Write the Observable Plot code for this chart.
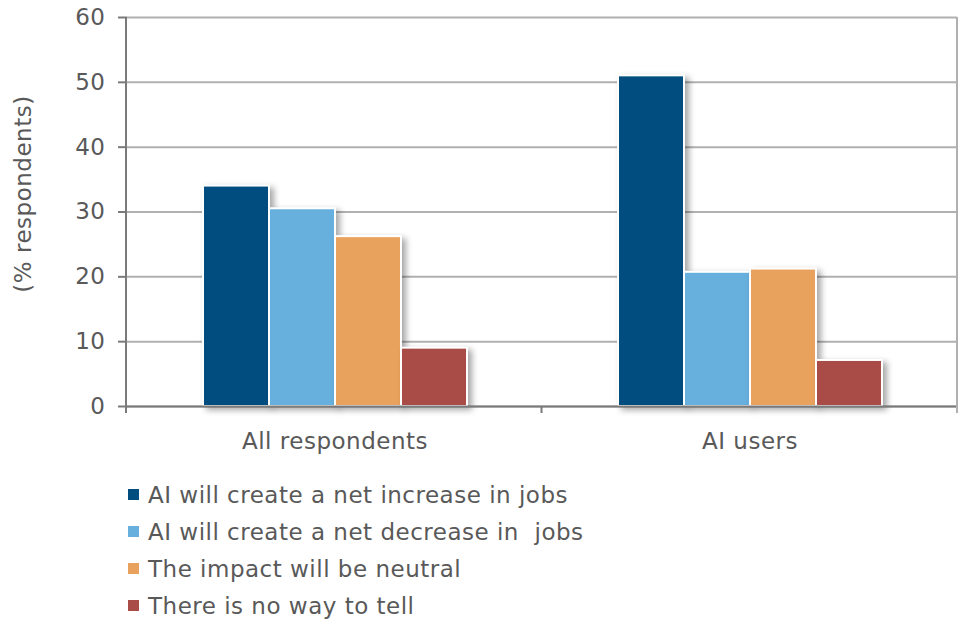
<!DOCTYPE html>
<html>
<head>
<meta charset="utf-8">
<script src="https://cdn.jsdelivr.net/npm/d3@7"></script>
<script src="https://cdn.jsdelivr.net/npm/@observablehq/plot@0.6"></script>
<style>
  html, body { margin: 0; padding: 0; background: #fff; }
  body { width: 960px; height: 621px; overflow: hidden; font-family: "DejaVu Sans", sans-serif; color: #595959; }
  #chart svg { display: block; overflow: visible; letter-spacing: 0.5px; }
  .bars rect { filter: drop-shadow(4px 3px 3px rgba(0,0,0,0.35)); }
  #legend { margin: 6px 0 0 128px; }
  .row { display: flex; align-items: center; height: 37px; font-size: 23px; letter-spacing: 0.5px; white-space: pre; }
  .sw { width: 11px; height: 11px; margin-right: 9px; }
</style>
</head>
<body>
<div id="chart"></div>
<div id="legend"></div>
<script>
const groups = ["All respondents", "AI users"];
const series = [
  "AI will create a net increase in jobs",
  "AI will create a net decrease in  jobs",
  "The impact will be neutral",
  "There is no way to tell"
];
const allRespondents = [34, 30.5, 26.2, 9];
const aiUsers = [51, 20.7, 21.2, 7.1];
const colors = ["#024D80", "#67AFDC", "#E9A25E", "#A94C48"];
const yTicks = [0, 10, 20, 30, 40, 50, 60];
const yLabel = "(% respondents)";

const data = [];
[allRespondents, aiUsers].forEach((vals, gi) => {
  vals.forEach((v, si) => data.push({group: groups[gi], series: series[si], value: v}));
});

const chart = Plot.plot({
  width: 960,
  height: 470,
  marginLeft: 126,
  marginRight: 3,
  marginTop: 17,
  marginBottom: 64,
  style: {fontFamily: "DejaVu Sans, sans-serif", fontSize: "23px", color: "#595959", background: "white"},
  fx: {domain: groups, padding: 0, label: null},
  x: {domain: series, paddingInner: 0, paddingOuter: 1.1, axis: null},
  y: {domain: [0, 60]},
  color: {domain: series, range: colors},
  marks: [
    Plot.gridY(yTicks, {stroke: "#b0b0b0", strokeWidth: 2, strokeOpacity: 1}),
    Plot.axisY(yTicks, {tickSize: 9, tickPadding: 13, stroke: "#7a7a7a", strokeWidth: 2, label: null, fontSize: 23}),
    Plot.text([{group: groups[0], label: yLabel}], {fx: "group", text: "label", frameAnchor: "left", textAnchor: "middle", lineAnchor: "middle", rotate: -90, dx: -104, dy: -18, fontSize: 23, fill: "#595959"}),
    Plot.axisFx({anchor: "bottom", tickSize: 0, tickPadding: 26, label: null, fontSize: 23}),
    Plot.barY(data, {fx: "group", x: "series", y: "value", fill: "series", stroke: "white", strokeWidth: 2, className: "bars"}),
    Plot.ruleY([0], {stroke: "#7a7a7a", strokeWidth: 2})
  ]
});
document.getElementById("chart").appendChild(chart);

// axis lines and category boundary ticks from the plot's own scales
const fxS = chart.scale("fx"), yS = chart.scale("y");
const fxBand = d3.scaleBand(fxS.domain, fxS.range).paddingInner(fxS.paddingInner || 0).paddingOuter(fxS.paddingOuter || 0);
const yLin = d3.scaleLinear(yS.domain, yS.range);
const svg = d3.select(chart);
const g = svg.append("g").attr("stroke", "#7a7a7a").attr("stroke-width", 2);
const left = fxBand(groups[0]);
const mid = fxBand(groups[1]);
const right = fxBand(groups[1]) + fxBand.bandwidth();
g.append("line").attr("x1", left).attr("x2", left).attr("y1", yLin(60)).attr("y2", yLin(0) + 7);
g.append("line").attr("x1", mid).attr("x2", mid).attr("y1", yLin(0)).attr("y2", yLin(0) + 7);
g.append("line").attr("x1", right).attr("x2", right).attr("y1", yLin(60)).attr("y2", yLin(0) + 7).attr("stroke", "#b0b0b0");

const legend = document.getElementById("legend");
series.forEach((s, i) => {
  const row = document.createElement("div");
  row.className = "row";
  const sw = document.createElement("div");
  sw.className = "sw";
  sw.style.background = colors[i];
  const t = document.createElement("span");
  t.textContent = s;
  row.appendChild(sw);
  row.appendChild(t);
  legend.appendChild(row);
});
</script>
</body>
</html>
